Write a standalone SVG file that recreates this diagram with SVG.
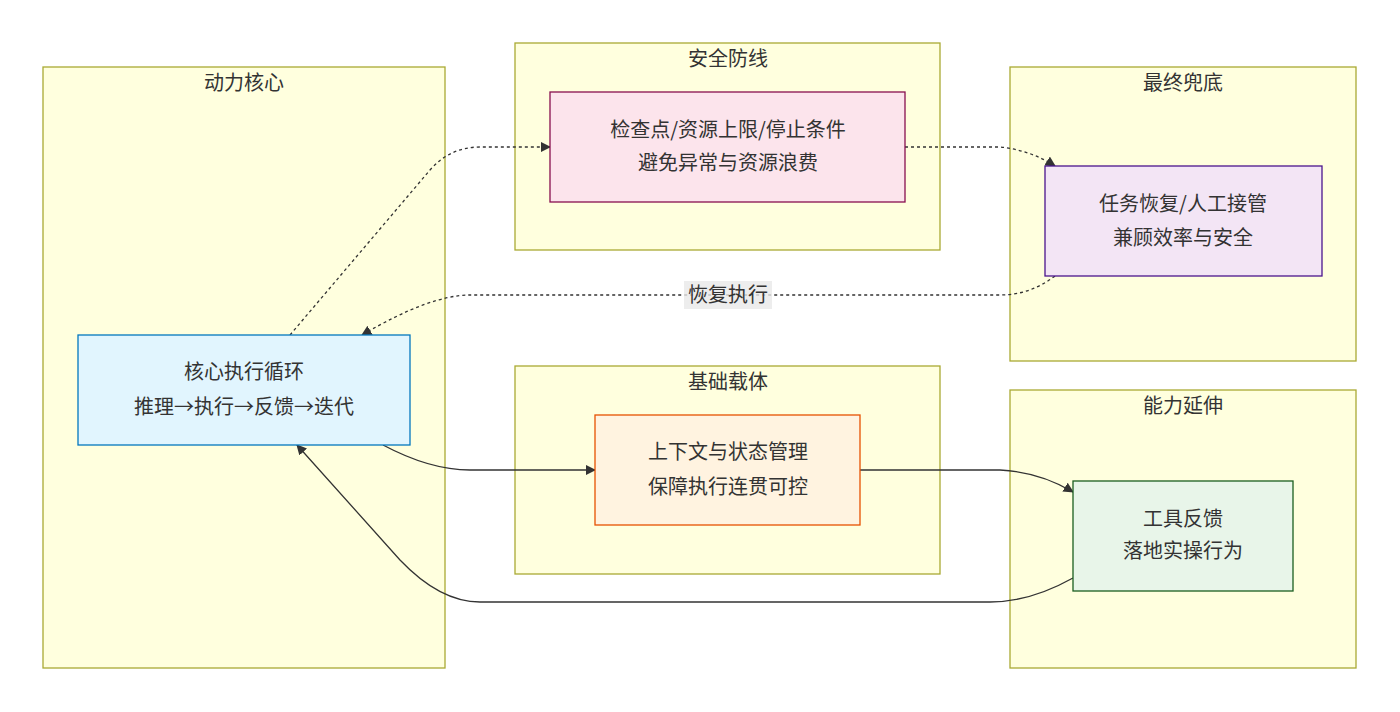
<svg xmlns="http://www.w3.org/2000/svg" width="1400" height="712" viewBox="0 0 1400 712">
<style>
.cl{fill:#ffffde;stroke:#aaaa33;stroke-width:1.3}
.t{font-family:"Noto Sans CJK SC","Liberation Sans",sans-serif;font-size:20px;fill:#333;text-anchor:middle}
.e{fill:none;stroke:#333;stroke-width:1.3}
.d{stroke-dasharray:3 3}
</style>
<defs><marker id="a" viewBox="0 0 10 10" refX="9" refY="5" markerWidth="8" markerHeight="8" orient="auto"><path d="M0,0L10,5L0,10z" fill="#333"/></marker></defs>
<rect width="1400" height="712" fill="#fff"/>
<g id="c1"><rect class="cl" x="43" y="67" width="402" height="601"/><text class="t" x="244" y="90">动力核心</text></g>
<g id="c2"><rect class="cl" x="515" y="43" width="425" height="207"/><text class="t" x="728" y="66">安全防线</text></g>
<g id="c3"><rect class="cl" x="1010" y="67" width="346" height="294"/><text class="t" x="1183" y="90">最终兜底</text></g>
<g id="c4"><rect class="cl" x="515" y="366" width="425" height="208"/><text class="t" x="728" y="389">基础载体</text></g>
<g id="c5"><rect class="cl" x="1010" y="390" width="346" height="278"/><text class="t" x="1183" y="413">能力延伸</text></g>
<g id="edges">
<path class="e d" d="M290,335 L430,170 Q450,147 480,147 L550,147" marker-end="url(#a)"/>
<path class="e d" d="M905,147 L1000,147 Q1030,150 1055,166" marker-end="url(#a)"/>
<path class="e d" d="M1055,276 Q1030,295 1000,295 L470,295 Q430,295 362,335" marker-end="url(#a)"/>
<path class="e" d="M383,445 Q430,470 470,470 L595,470" marker-end="url(#a)"/>
<path class="e" d="M860,470 L1000,470 Q1040,472 1073,492" marker-end="url(#a)"/>
<path class="e" d="M1073,578 Q1030,602 990,602 L480,602 Q440,602 400,560 L297,445" marker-end="url(#a)"/>
<rect x="684" y="281" width="88" height="28" fill="#e8e8e8" opacity="0.8"/>
<text class="t" x="728" y="302">恢复执行</text>
</g>
<g id="n1"><rect x="78" y="335" width="332" height="110" fill="#e1f5fe" stroke="#0277bd" stroke-width="1.3"/><text class="t" x="244" y="379">核心执行循环</text><text class="t" x="244" y="414">推理→执行→反馈→迭代</text></g>
<g id="n2"><rect x="550" y="92" width="355" height="110" fill="#fce4ec" stroke="#880e4f" stroke-width="1.3"/><text class="t" x="728" y="137">检查点/资源上限/停止条件</text><text class="t" x="728" y="170">避免异常与资源浪费</text></g>
<g id="n3"><rect x="1045" y="166" width="277" height="110" fill="#f3e5f5" stroke="#4a148c" stroke-width="1.3"/><text class="t" x="1183" y="211">任务恢复/人工接管</text><text class="t" x="1183" y="245">兼顾效率与安全</text></g>
<g id="n4"><rect x="595" y="415" width="265" height="110" fill="#fff3e0" stroke="#e65100" stroke-width="1.3"/><text class="t" x="728" y="459">上下文与状态管理</text><text class="t" x="728" y="494">保障执行连贯可控</text></g>
<g id="n5"><rect x="1073" y="481" width="220" height="110" fill="#e8f5e9" stroke="#1b5e20" stroke-width="1.3"/><text class="t" x="1183" y="526">工具反馈</text><text class="t" x="1183" y="558">落地实操行为</text></g>
</svg>
